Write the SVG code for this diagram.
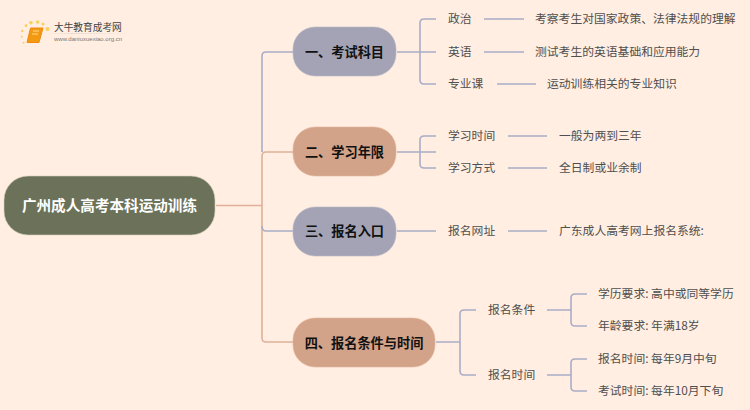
<svg xmlns="http://www.w3.org/2000/svg" width="750" height="410" viewBox="0 0 750 410">
<defs><linearGradient id="fade"><stop offset="0" stop-color="#eadfd6" stop-opacity="0"/><stop offset=".3" stop-color="#e6dcd3"/><stop offset="1" stop-color="#eadfd6" stop-opacity="0"/></linearGradient></defs>
<style>
text{font-family:"Noto Sans CJK SC","Liberation Sans",sans-serif}
.leaf{font-size:11.800px;fill:#4f4f4f;dominant-baseline:central}
.main{font-size:13.200px;font-weight:700;fill:#111;text-anchor:middle;dominant-baseline:central}
.blue{fill:none;stroke:#a9adc6;stroke-width:1.6}
.tan{fill:none;stroke:#deb198;stroke-width:1.6}
.g{fill:#a3a3b5;stroke:#b8b8c8;stroke-width:.6}
.o{fill:#d2a389;stroke:#e2b79e;stroke-width:.6}
</style>
<rect width="750" height="410" fill="#ffeee1"/>
<g id="logo">
<g fill="#fbcf5c"><circle cx="47.500" cy="29" r="2"/><circle cx="43" cy="24" r="1.500"/><circle cx="31" cy="22.700" r="1.800"/><circle cx="37.700" cy="22" r="1.800"/><circle cx="26" cy="25.700" r="1.400"/><circle cx="22.300" cy="31" r="1.200"/><circle cx="21.700" cy="36.700" r="1"/><circle cx="23.700" cy="42.700" r="1"/></g>
<path d="M30.500 28H43L39 42.500H27Z" fill="#f29a12" stroke="#ee8a10" stroke-width="1"/>
<path d="M33 31H39M32 34H38" stroke="#ffd98a" stroke-width="1"/>
<text x="54" y="30.500" style="font-size:9.700px;fill:#444">大牛教育成考网</text>
<rect x="46" y="33" width="88" height="1" fill="url(#fade)"/>
<text x="54" y="41" style="font-family:'Liberation Sans',sans-serif;font-size:6px;fill:#777">www.daniuxuexiao.org.cn</text>
</g>
<g id="connectors">
<path class="blue" d="M293 52H266Q262 52 262 56V152"/>
<path class="tan" d="M216 205.500H262M293 152H266Q262 152 262 156V338Q262 342 266 342H293"/>
<path class="blue" d="M262 226Q262 231 266 231H293"/>
<path class="blue" d="M397 52H436M436 19H424Q420 19 420 23V80Q420 84 424 84H436"/>
<path class="blue" d="M484 19H524M484 52H524M497 84H536"/>
<path class="blue" d="M397 152H436M436 136H424Q420 136 420 140V164Q420 168 424 168H436"/>
<path class="blue" d="M508 136H547M508 168H547"/>
<path class="blue" d="M397 231H436M508 231H547"/>
<path class="blue" d="M436 342H460M476 310H464Q460 310 460 314V371Q460 375 464 375H476"/>
<path class="blue" d="M547 310H571M587 294H575Q571 294 571 298V322Q571 326 575 326H587"/>
<path class="blue" d="M547 375H571M587 359H575Q571 359 571 363V387Q571 391 575 391H587"/>
</g>
<g id="root"><rect x="4" y="176" width="211" height="59" rx="24" fill="#6b7259" stroke="#d6d2bd" stroke-width=".6"/><text x="109.500" y="204" style="font-size:14.600px;font-weight:700;fill:#fff;text-anchor:middle;dominant-baseline:central">广州成人高考本科运动训练</text></g>
<g id="n1"><rect class="g" x="293" y="27" width="103" height="49" rx="22"/><text class="main" x="344.500" y="51">一、考试科目</text></g>
<g id="n2"><rect class="o" x="293" y="127" width="103" height="49" rx="22"/><text class="main" x="344.500" y="151">二、学习年限</text></g>
<g id="n3"><rect class="g" x="293" y="207" width="103" height="49" rx="22"/><text class="main" x="344.500" y="230">三、报名入口</text></g>
<g id="n4"><rect class="o" x="293" y="318" width="142" height="49" rx="22"/><text class="main" x="364" y="342">四、报名条件与时间</text></g>
<g id="leaves">
<text class="leaf" x="448" y="17">政治</text><text class="leaf" x="535" y="17">考察考生对国家政策、法律法规的理解</text>
<text class="leaf" x="448" y="50">英语</text><text class="leaf" x="535" y="50">测试考生的英语基础和应用能力</text>
<text class="leaf" x="448" y="82">专业课</text><text class="leaf" x="547" y="82">运动训练相关的专业知识</text>
<text class="leaf" x="448" y="134">学习时间</text><text class="leaf" x="559" y="134">一般为两到三年</text>
<text class="leaf" x="448" y="166">学习方式</text><text class="leaf" x="559" y="166">全日制或业余制</text>
<text class="leaf" x="448" y="229">报名网址</text><text class="leaf" x="559" y="229">广东成人高考网上报名系统:</text>
<text class="leaf" x="488" y="308">报名条件</text><text class="leaf" x="488" y="373">报名时间</text>
<text class="leaf" x="598" y="292">学历要求: 高中或同等学历</text>
<text class="leaf" x="598" y="324">年龄要求: 年满18岁</text>
<text class="leaf" x="598" y="357">报名时间: 每年9月中旬</text>
<text class="leaf" x="598" y="389">考试时间: 每年10月下旬</text>
</g>
</svg>
